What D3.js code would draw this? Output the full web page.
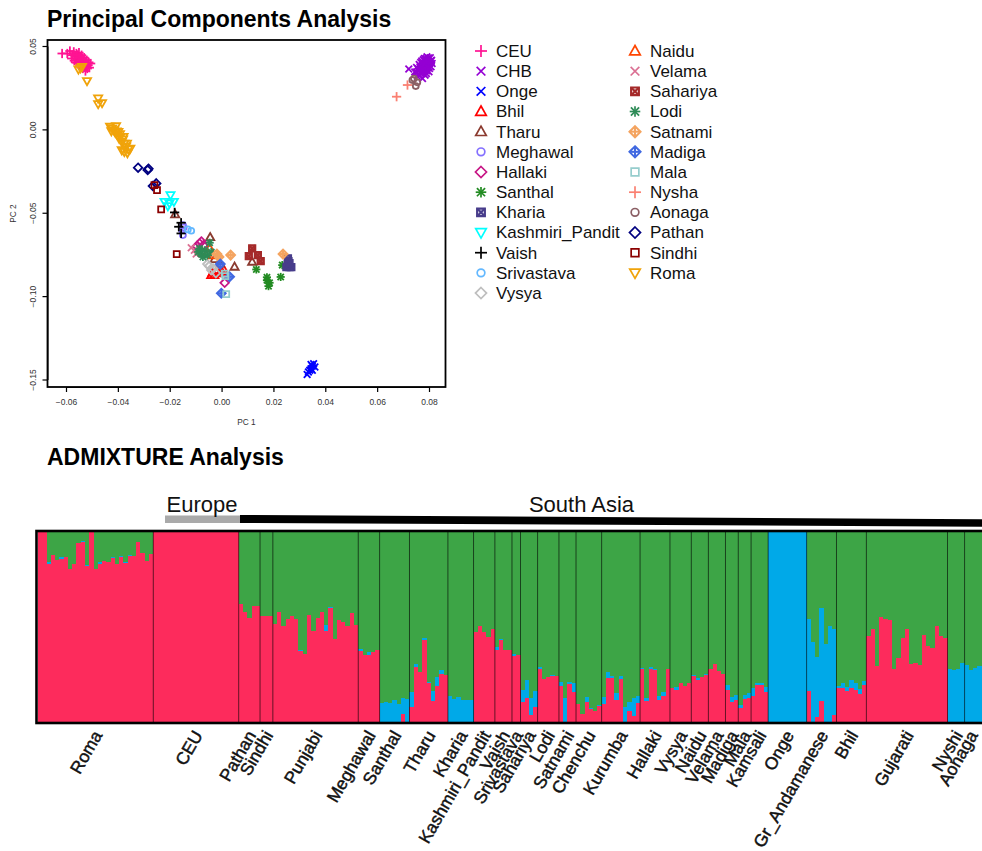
<!DOCTYPE html>
<html>
<head>
<meta charset="utf-8">
<script src="https://d3js.org/d3.v7.min.js"></script>
<style>
html, body { margin: 0; padding: 0; background: #fff; overflow: hidden; }
text { font-family: "Liberation Sans", Arial, sans-serif; }
</style>
</head>
<body>
<svg width="982" height="851"></svg>
<script>
// ---- PCA data: [PC1, PC2] ----
const pcaCEU = [[-.0615,.0455],[-.0595,.0455],[-.0585,.047],[-.0575,.0445],[-.057,.0465],[-.0565,.0435],[-.056,.0455],[-.0555,.042],[-.0555,.044],[-.055,.046],[-.0548,.0405],[-.0545,.043],[-.054,.0445],[-.0538,.039],[-.0535,.0415],[-.053,.043],[-.0528,.0375],[-.0525,.04],[-.052,.0415],[-.0515,.0385],[-.051,.037],[-.0505,.0395],[-.0545,.0385],[-.056,.04],[-.0535,.0365],[-.055,.0415],[-.0525,.035],[-.0578,.0425],[-.0568,.0412],[-.0552,.0398],[-.0542,.0412],[-.0532,.0398],[-.0522,.0378],[-.0512,.0402],[-.0558,.0448],[-.0548,.0432],[-.0538,.0428],[-.0528,.0412],[-.0518,.0365],[-.0542,.0372]]
const pcaCHB = [[.0722,.0362],[.0745,.0345],[.0752,.0372],[.0755,.0318],[.076,.0352],[.0762,.039],[.0768,.0335],[.077,.0365],[.0772,.041],[.0775,.0305],[.0778,.035],[.078,.038],[.0782,.0425],[.0785,.0325],[.0788,.0395],[.079,.0355],[.0792,.0435],[.0795,.0375],[.0798,.041],[.08,.0345],[.0802,.0395],[.0805,.043],[.0808,.0375],[.081,.0415],[.0765,.0375],[.0775,.0395],[.0785,.041],[.0795,.0395],[.0775,.0335],[.079,.0335],[.0752,.0345],[.0762,.0325],[.0772,.0352],[.0782,.0362],[.0792,.0352],[.0802,.0365],[.0812,.0395],[.0782,.0392],[.0768,.0402],[.0778,.0418],[.0788,.0425],[.0798,.0428],[.0808,.0412],[.0758,.0362],[.0772,.0378]]
const pcaOnge = [[.033,-.147],[.0335,-.1455],[.034,-.1445],[.0345,-.1435],[.035,-.1445],[.035,-.142],[.0355,-.1405],[.0345,-.141],[.036,-.1425]]
const pcaBhil = [[-.004,-.0874],[-.0008,-.0863],[.0008,-.084],[-.0028,-.0874],[-.0015,-.0845],[-.0035,-.086],[.0002,-.0855]]
const pcaTharu = [[-.0179,-.051],[-.0044,-.0647],[.005,-.0824],[.0118,-.0794],[-.0027,-.0778],[-.0006,-.0805]]
const pcaMeghawal = [[-.0149,-.0574],[-.0149,-.0634],[-.0152,-.0605],[-.0146,-.0588]]
const pcaHallaki = [[-.0085,-.0684],[-.0095,-.07],[.0012,-.092],[-.007,-.0695],[-.0078,-.0672]]
const pcaSanthal = [[.0134,-.084],[.0175,-.0887],[.0175,-.0905],[.0181,-.094],[.0228,-.0885],[.0234,-.0814],[.0185,-.092]]
const pcaKharia = [[.0256,-.0773],[.0255,-.081],[.0269,-.0826],[.0258,-.079],[.0262,-.0826],[.025,-.0826],[.0262,-.0802]]
const pcaKashmiri = [[-.0197,-.0394],[-.022,-.0434],[-.0201,-.0444],[-.0184,-.0434],[-.0207,-.046]]
const pcaVaish = [[-.0181,-.0498],[-.0156,-.056],[-.0165,-.0584],[-.0156,-.0624]]
const pcaSrivastava = [[-.013,-.06],[-.0117,-.0608]]
const pcaVysya = [[-.0055,-.0808],[-.004,-.0844],[-.0032,-.0835],[-.0048,-.082],[-.0022,-.0862]]
const pcaNaidu = [[-.0046,-.0712],[-.0075,-.0735],[-.0055,-.074],[-.0035,-.0755]]
const pcaVelama = [[-.0117,-.071],[-.0098,-.0748],[-.0088,-.073],[-.0105,-.0725]]
const pcaSahariya = [[.0118,-.0713],[.0105,-.076],[.014,-.0754],[.0151,-.079]]
const pcaLodi = [[-.0046,-.068],[-.0085,-.0715],[-.008,-.0745],[-.0065,-.0725],[-.0055,-.0755],[-.004,-.0735],[-.0072,-.0765],[-.009,-.0735]]
const pcaSatnami = [[.0035,-.0754],[.0237,-.0748],[-.0018,-.0748],[-.001,-.0765]]
const pcaMadiga = [[-.0005,-.0808],[-.0001,-.0983],[.0031,-.0884]]
const pcaMala = [[.0018,-.0988],[.0015,-.088],[.0012,-.0865]]
const pcaNysha = [[.0717,.0266],[.0675,.0196]]
const pcaAonaga = [[.0736,.0296],[.0749,.026],[.0755,.0282],[.0742,.0305]]
const pcaPathan = [[-.0322,-.023],[-.0285,-.0244],[-.0282,-.0236],[-.0265,-.034],[-.0252,-.0324]]
const pcaSindhi = [[-.0259,-.0334],[-.0249,-.0364],[-.0233,-.048],[-.0173,-.0748]]
const pcaRoma = [[-.0544,.0367],[-.0552,.036],[-.0538,.0375],[-.0519,.029],[-.0476,.0186],[-.0476,.0152],[-.0461,.0158],[-.043,.0016],[-.0422,.0006],[-.0415,-.0005],[-.0407,.002],[-.041,-.002],[-.0402,-.0035],[-.0398,-.0015],[-.0395,-.0055],[-.039,-.0045],[-.0385,-.0075],[-.038,-.006],[-.0375,-.0085],[-.0372,-.0105],[-.0365,-.0085],[-.036,-.012],[-.0385,-.0125],[-.0375,-.0135],[-.0363,-.0142],[-.0352,-.0115],[-.0425,-.001],[-.0405,-.0012],[-.0392,-.0028],[-.0378,-.0045],[-.0368,-.0102]]

const pcaGroups = [
  ['CEU', pcaCEU], ['CHB', pcaCHB], ['Onge', pcaOnge], ['Bhil', pcaBhil], ['Tharu', pcaTharu],
  ['Meghawal', pcaMeghawal], ['Hallaki', pcaHallaki], ['Santhal', pcaSanthal], ['Kharia', pcaKharia],
  ['Kashmiri_Pandit', pcaKashmiri], ['Vaish', pcaVaish], ['Srivastava', pcaSrivastava], ['Vysya', pcaVysya],
  ['Naidu', pcaNaidu], ['Velama', pcaVelama], ['Sahariya', pcaSahariya], ['Lodi', pcaLodi],
  ['Satnami', pcaSatnami], ['Madiga', pcaMadiga], ['Mala', pcaMala], ['Nysha', pcaNysha],
  ['Aonaga', pcaAonaga], ['Pathan', pcaPathan], ['Sindhi', pcaSindhi], ['Roma', pcaRoma]
]
const pcXTicks = [-0.06, -0.04, -0.02, 0, 0.02, 0.04, 0.06, 0.08]
const pcYTicks = [0.05, 0, -0.05, -0.10, -0.15]

// ---- ADMIXTURE data: population sizes, then per person fractions ----
const populations = ['Roma','CEU','Pathan','Sindhi','Punjabi','Meghawal','Santhal','Tharu','Kharia','Kashmiri_Pandit','Vaish','Srivastava','Sahariya','Lodi','Satnami','Chenchu','Kurumba','Hallaki','Vysya','Naidu','Velama','Madiga','Mala','Kamsali','Onge','Gr_Andamanese','Bhil','Gujarati','Nyshi','Aonaga']
const popSizes = [27,20,5,3,20,5,7,9,6,5,4,2,4,5,4,6,9,7,5,4,4,3,3,4,9,7,7,19,4,5]
const redShare = [
  1,1,.83,.88,.855,.86,.87,.805,.83,.94,.95,.82,1,.805,.83,.85,.84,.865,.83,.87,.835,.875,.875,.945,.89,.85,.885,
  1,1,1,1,1,1,1,1,1,1,1,1,1,1,1,1,1,1,1,1,
  .62,.577,.55,.61,.61,
  .556,.556,.556,
  .518,.577,.504,.54,.56,.54,.372,.358,.565,.477,.547,.577,.477,.6,.439,.537,.526,.504,.575,.512,
  .372,.354,.354,.368,.381,
  0,0,0,0,0,.04,0,
  .077,.289,.261,.433,.204,.109,.191,.254,.249,
  0,0,0,0,0,0,
  .474,.504,.474,.446,.489,
  .381,.432,.379,.379,
  .346,.351,
  .104,.126,.035,.081,
  .277,.228,.235,.24,.24,
  .189,0,.202,.16,
  .093,.042,.104,.068,.056,.084,
  .095,.232,.232,.118,.226,0,.056,.033,.098,
  .277,.11,.281,.274,.116,.137,.281,
  .179,.168,.205,.188,.207,
  .24,.219,.239,.249,
  .279,.305,.267,.254,
  .168,.104,.114,
  .072,.123,.126,
  .137,.195,.195,.158,
  0,0,0,0,0,0,0,0,0,
  .165,0,.028,.112,0,0,.039,
  .179,.179,.161,.179,.167,.147,.196,
  .451,.491,.295,.554,.54,.535,.281,.337,.442,.489,.307,.311,.298,.458,.398,.391,.507,.454,.44,
  0,0,0,0,
  0,0,0,0,0
]
const blueShare = [
  0,0,.01,0,0,.01,0,0,0,0,.005,.005,0,0,.01,0,0,.005,0,.005,.005,.005,0,0,0,0,0,
  0,0,0,0,0,0,0,0,0,0,0,0,0,0,0,0,0,0,0,0,
  0,0,0,0,0,
  0,0,0,
  0,0,0,0,0,0,.005,0,0,0,0,0,.035,.005,0,0,0,0,0,0,
  .014,0,.012,0,0,
  .1,.105,.098,.116,.095,.086,.123,
  .081,.018,0,.007,.007,.056,.047,.018,0,
  .135,.123,.13,.118,.116,.118,
  0,0,0,0,0,
  .014,.004,0,0,
  .012,0,
  .063,.093,.091,.084,
  .01,0,0,.009,0,
  .021,.125,.007,.046,
  0,0,.028,.007,0,.005,
  .039,.03,.012,.035,.018,.077,.049,.091,.037,
  .007,.018,.01,.007,.023,.019,0,
  0,.018,0,0,0,
  .01,.012,0,.004,
  0,0,0,0,
  .026,.025,.028,
  .019,.021,.025,
  .042,.012,.012,.028,
  1,1,1,1,1,1,1,1,1,
  .377,.421,.314,.488,.41,.504,.452,
  .011,.026,.021,.04,.039,.028,.022,
  0,0,0,0,0,0,0,0,0,0,0,0,0,0,0,0,0,0,0,
  .281,.275,.277,.311,
  .302,.275,.284,.295,.295
]

const svg = d3.select('svg')
const pchColor = {CEU:'#ff1493',CHB:'#9400d3',Onge:'#0000ff',Bhil:'#ff0000',Tharu:'#8b3a2f',Meghawal:'#8470ff',Hallaki:'#c71585',Santhal:'#228b22',Kharia:'#483d8b',Kashmiri_Pandit:'#00ffff',Vaish:'#000000',Srivastava:'#63b8ff',Vysya:'#bebebe',Naidu:'#ff4500',Velama:'#db7093',Sahariya:'#a52a2a',Lodi:'#2e8b57',Satnami:'#f4a460',Madiga:'#4169e1',Mala:'#96cdcd',Nysha:'#fa8072',Aonaga:'#8b5f65',Pathan:'#000080',Sindhi:'#8b0000',Roma:'#f0a30a'}
const pchShape = {CEU:'plus',CHB:'cross',Onge:'cross',Bhil:'up',Tharu:'up',Meghawal:'circle',Hallaki:'diamond',Santhal:'star',Kharia:'box',Kashmiri_Pandit:'down',Vaish:'plus',Srivastava:'circle',Vysya:'diamond',Naidu:'up',Velama:'cross',Sahariya:'box',Lodi:'star',Satnami:'diaplus',Madiga:'diaplus',Mala:'square',Nysha:'plus',Aonaga:'circle',Pathan:'diamond',Sindhi:'square',Roma:'down'}

// draws one R style plotting symbol around 0,0
function symbol(g, shape, color, r, sw) {
  let line = (a, b, c, d, w) => g.append('line').attr('x1', a).attr('y1', b).attr('x2', c).attr('y2', d).attr('stroke', color).attr('stroke-width', w || sw)
  let poly = (pts, w) => g.append('polygon').attr('points', pts.map(p => p.join(',')).join(' ')).attr('fill', 'none').attr('stroke', color).attr('stroke-width', w || sw)
  if (shape == 'plus') { line(-r * 1.25, 0, r * 1.25, 0); line(0, -r * 1.25, 0, r * 1.25) }
  if (shape == 'cross') { line(-r * .9, -r * .9, r * .9, r * .9); line(-r * .9, r * .9, r * .9, -r * .9) }
  if (shape == 'up') poly([[0, -r * 1.15], [r * 1.1, r * .8], [-r * 1.1, r * .8]])
  if (shape == 'down') poly([[0, r * 1.15], [r * 1.1, -r * .8], [-r * 1.1, -r * .8]])
  if (shape == 'circle') g.append('circle').attr('r', r * .8).attr('fill', 'none').attr('stroke', color).attr('stroke-width', sw)
  if (shape == 'diamond') poly([[0, -r * 1.15], [r * 1.15, 0], [0, r * 1.15], [-r * 1.15, 0]])
  if (shape == 'square') poly([[-r * .8, -r * .8], [r * .8, -r * .8], [r * .8, r * .8], [-r * .8, r * .8]])
  if (shape == 'star') {
    line(-r * 1.1, 0, r * 1.1, 0); line(0, -r * 1.1, 0, r * 1.1)
    line(-r * .85, -r * .85, r * .85, r * .85); line(-r * .85, r * .85, r * .85, -r * .85)
  }
  if (shape == 'box') {
    poly([[-r * .8, -r * .8], [r * .8, -r * .8], [r * .8, r * .8], [-r * .8, r * .8]], sw * 1.3)
    line(-r * .8, -r * .8, r * .8, r * .8, sw * 1.3); line(-r * .8, r * .8, r * .8, -r * .8, sw * 1.3)
  }
  if (shape == 'diaplus') {
    poly([[0, -r * 1.15], [r * 1.15, 0], [0, r * 1.15], [-r * 1.15, 0]], sw * 1.2)
    line(-r * 1.15, 0, r * 1.15, 0, sw * 1.2); line(0, -r * 1.15, 0, r * 1.15, sw * 1.2)
  }
}

// ---- PCA panel ----
const box = {left: 47.5, right: 445.5, top: 40, bottom: 387}
const xPC = d3.scaleLinear().domain([-0.06, 0.08]).range([66, 429])
const yPC = d3.scaleLinear().domain([0.05, -0.15]).range([46, 379.5])

svg.append('text').attr('x', 47).attr('y', 27).attr('font-size', 23).attr('font-weight', 'bold').text('Principal Components Analysis')

const xAxis = svg.append('g').attr('transform', 'translate(0,' + box.bottom + ')')
  .call(d3.axisBottom(xPC).tickValues(pcXTicks).tickSize(5).tickSizeOuter(0).tickPadding(7).tickFormat(d3.format('.2f')))
const yAxis = svg.append('g').attr('transform', 'translate(' + box.left + ',0)')
  .call(d3.axisLeft(yPC).tickValues(pcYTicks).tickSize(5).tickSizeOuter(0).tickFormat(d3.format('.2f')))
xAxis.selectAll('text').attr('font-size', 8.5).attr('fill', '#333')
yAxis.selectAll('text').attr('font-size', 8.5).attr('fill', '#333')
  .attr('text-anchor', 'middle').attr('dy', 0).attr('x', 0).attr('y', 0)
  .attr('transform', 'translate(-11.5,0) rotate(-90)')
svg.selectAll('.domain').attr('stroke-width', 1)
svg.selectAll('.tick line').attr('stroke-width', 1.2)

svg.append('text').attr('x', 246.5).attr('y', 425).attr('text-anchor', 'middle').attr('font-size', 8.3).attr('fill', '#333').text('PC 1')
svg.append('text').attr('transform', 'translate(16,213.5) rotate(-90)').attr('text-anchor', 'middle').attr('font-size', 8.3).attr('fill', '#333').text('PC 2')

pcaGroups.forEach(([name, pts]) => {
  pts.forEach(p => {
    let g = svg.append('g').attr('transform', 'translate(' + xPC(p[0]) + ',' + yPC(p[1]) + ')')
    symbol(g, pchShape[name], pchColor[name], 3.7, 1.8)
  })
})
svg.append('rect').attr('x', box.left).attr('y', box.top)
  .attr('width', box.right - box.left).attr('height', box.bottom - box.top)
  .attr('fill', 'none').attr('stroke', '#000').attr('stroke-width', 1.8)

// ---- legend, two columns ----
pcaGroups.forEach(([name], i) => {
  let col = i < 13 ? 0 : 1
  let row = i < 13 ? i : i - 13
  let g = svg.append('g').attr('transform', 'translate(' + (col ? 635 : 481) + ',' + (51 + row * 20.17) + ')')
  symbol(g, pchShape[name], pchColor[name], 4.8, 1.7)
  g.append('text').attr('x', 15).attr('y', 5.9).attr('font-size', 17).attr('fill', '#111').text(name)
})

// ---- ADMIXTURE panel ----
svg.append('text').attr('x', 47).attr('y', 465).attr('font-size', 23).attr('font-weight', 'bold').text('ADMIXTURE Analysis')

const total = d3.sum(popSizes)
const barLeft = 38, barTop = 532, barBottom = 722, unit = 4.27
const xBar = d3.scaleLinear().domain([0, total]).range([barLeft, barLeft + total * unit])
const yBar = d3.scaleLinear().domain([0, 1]).range([barBottom, barTop])
const compColor = {red: '#fd2b5c', blue: '#00a9e8', green: '#3da546'}

const barsG = svg.append('g').attr('shape-rendering', 'crispEdges')
redShare.forEach((r, i) => {
  let b = blueShare[i]
  let w = xBar(i + 1) - xBar(i)
  barsG.append('rect').attr('x', xBar(i)).attr('width', w).attr('y', yBar(1)).attr('height', yBar(r + b) - yBar(1)).attr('fill', compColor.green)
  barsG.append('rect').attr('x', xBar(i)).attr('width', w).attr('y', yBar(r + b)).attr('height', yBar(r) - yBar(r + b)).attr('fill', compColor.blue)
  barsG.append('rect').attr('x', xBar(i)).attr('width', w).attr('y', yBar(r)).attr('height', yBar(0) - yBar(r)).attr('fill', compColor.red)
})

// population separators and labels
let start = 0
populations.forEach((p, i) => {
  let end = start + popSizes[i]
  if (i < populations.length - 1) {
    svg.append('line').attr('x1', xBar(end)).attr('x2', xBar(end)).attr('y1', barTop).attr('y2', barBottom)
      .attr('stroke', '#000').attr('stroke-opacity', 0.6).attr('stroke-width', 1)
  }
  let mid = Math.min(xBar((start + end) / 2) + 2, 973)
  svg.append('text').attr('transform', 'translate(' + mid + ',732) rotate(-60)')
    .attr('text-anchor', 'end').attr('dy', '0.35em').attr('font-size', 17.4).attr('fill', '#111')
    .attr('stroke', '#111').attr('stroke-width', 0.45).text(p)
  start = end
})
svg.append('rect').attr('x', 36.5).attr('y', 531).attr('width', 1000).attr('height', 192)
  .attr('fill', 'none').attr('stroke', '#000').attr('stroke-width', 2.6)

// region brackets
svg.append('rect').attr('x', 165).attr('y', 515.5).attr('width', 75).attr('height', 7.5).attr('fill', '#aaaaaa')
svg.append('polygon').attr('points', '240,515 982,519.3 982,526.7 240,523').attr('fill', '#000')
svg.append('text').attr('x', 202).attr('y', 512).attr('text-anchor', 'middle').attr('font-size', 22).attr('fill', '#111').text('Europe')
svg.append('text').attr('x', 581.5).attr('y', 512).attr('text-anchor', 'middle').attr('font-size', 22).attr('fill', '#111').text('South Asia')
</script>
</body>
</html>
